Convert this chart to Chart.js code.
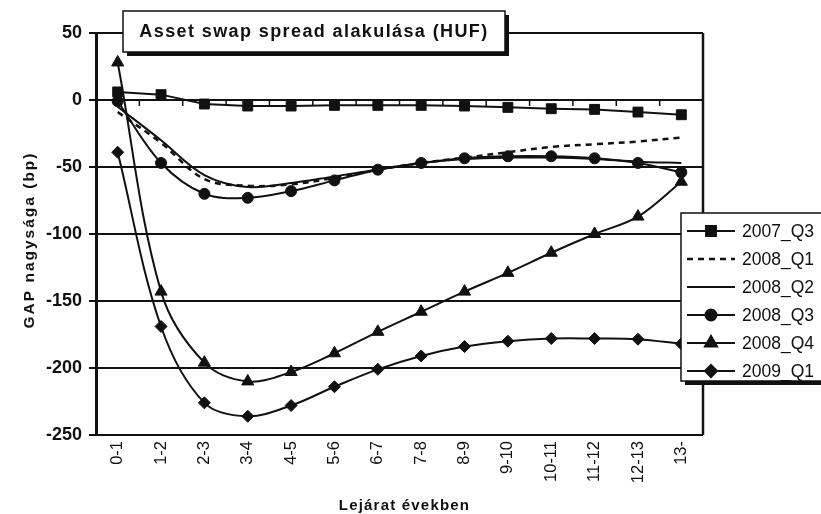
<!DOCTYPE html>
<html>
<head>
<meta charset="utf-8">
<script src="https://cdn.jsdelivr.net/npm/chart.js@4"></script>
<style>
  html, body { margin: 0; padding: 0; background: #fff; }
  canvas { display: block; }
</style>
</head>
<body>
<canvas id="chart" width="821" height="514"></canvas>
<script>
const labels = ["0-1", "1-2", "2-3", "3-4", "4-5", "5-6", "6-7", "7-8", "8-9", "9-10", "10-11", "11-12", "12-13", "13-"];
const q2007_3 = [6, 4, -3, -4.5, -4.5, -4, -4, -4, -4.5, -5.5, -6.5, -7, -9, -11];
const q2008_1 = [-9, -32, -59, -64, -63, -58, -52, -47, -43, -39, -35, -33, -31, -28];
const q2008_2 = [-5, -30, -56, -65, -62, -57, -52, -47, -44, -43, -43, -44, -46, -47];
const q2008_3 = [-1, -47, -70, -73, -68, -60, -52, -47, -43.5, -42, -42, -43.5, -47, -54];
const q2008_4 = [28, -143, -196, -210, -203, -189, -173, -158, -143, -129, -114, -100, -87, -61];
const q2009_1 = [-39, -169, -226, -236, -228, -214, -201, -191, -184, -180, -178, -178, -178.5, -182];

const yTicks = [50, 0, -50, -100, -150, -200, -250];

const FONT = "'Liberation Sans', Arial, sans-serif";
const INK = "#111";

const series = (label, data, style, extra) => Object.assign({
  label,
  data,
  borderColor: INK,
  backgroundColor: INK,
  borderWidth: 2,
  pointStyle: style || false,
  pointRadius: style ? 5 : 0,
  pointBorderWidth: 1,
  tension: 0.35,
}, extra);

const datasets = [
  series("2007_Q3", q2007_3, "rect", { pointRadius: 7, tension: 0 }),
  series("2008_Q1", q2008_1, null, { borderDash: [6, 5], borderWidth: 2.5 }),
  series("2008_Q2", q2008_2, null),
  series("2008_Q3", q2008_3, "circle", { pointRadius: 5.5 }),
  series("2008_Q4", q2008_4, "triangle", { pointRadius: 7 }),
  series("2009_Q1", q2009_1, "rectRot", { pointRadius: 6 }),
];

const decor = {
  id: "decor",
  beforeDatasetsDraw(chart) {
    const { ctx, chartArea: a, scales: { x, y } } = chart;
    ctx.save();
    ctx.strokeStyle = INK;
    // right border
    ctx.lineWidth = 2.5;
    ctx.beginPath();
    ctx.moveTo(a.right, a.top);
    ctx.lineTo(a.right, a.bottom);
    ctx.stroke();
    // category ticks on the zero line
    const y0 = y.getPixelForValue(0);
    ctx.lineWidth = 1.5;
    ctx.beginPath();
    for (let i = 1; i < labels.length; i++) {
      const px = (x.getPixelForTick(i - 1) + x.getPixelForTick(i)) / 2;
      ctx.moveTo(px, y0);
      ctx.lineTo(px, y0 + 6);
    }
    ctx.stroke();
    ctx.restore();
  },
  afterDraw(chart) {
    const { ctx, chartArea: a } = chart;
    ctx.save();
    ctx.fillStyle = INK;
    ctx.textAlign = "center";
    ctx.textBaseline = "middle";

    // axis titles
    ctx.font = "bold 15px " + FONT;
    ctx.letterSpacing = "1.2px";
    ctx.fillText("Lejárat években", (a.left + a.right) / 2 + 5, 506);
    ctx.save();
    ctx.translate(30, (a.top + a.bottom) / 2 + 6);
    ctx.rotate(-Math.PI / 2);
    ctx.font = "bold 15.5px " + FONT;
    ctx.letterSpacing = "2px";
    ctx.fillText("GAP nagysága (bp)", 0, 0);
    ctx.restore();

    // title box
    const tb = { x: 123, y: 11, w: 382, h: 41 };
    ctx.fillStyle = INK;
    ctx.fillRect(tb.x + 4, tb.y + 4, tb.w, tb.h);
    ctx.fillStyle = "#fff";
    ctx.fillRect(tb.x, tb.y, tb.w, tb.h);
    ctx.strokeStyle = INK;
    ctx.lineWidth = 1.5;
    ctx.strokeRect(tb.x, tb.y, tb.w, tb.h);
    ctx.fillStyle = INK;
    ctx.font = "bold 18px " + FONT;
    ctx.letterSpacing = "1.4px";
    ctx.fillText("Asset swap spread alakulása (HUF)", tb.x + tb.w / 2, tb.y + tb.h / 2 + 1);

    // legend
    const lg = { x: 681, y: 213, w: 150, h: 168 };
    ctx.fillStyle = INK;
    ctx.fillRect(lg.x + 4, lg.y + 4, lg.w, lg.h);
    ctx.fillStyle = "#fff";
    ctx.fillRect(lg.x, lg.y, lg.w, lg.h);
    ctx.lineWidth = 1.5;
    ctx.strokeRect(lg.x, lg.y, lg.w, lg.h);
    ctx.letterSpacing = "0px";
    ctx.font = "17.5px " + FONT;
    ctx.textAlign = "left";
    chart.data.datasets.forEach((ds, i) => {
      const ly = lg.y + 18 + i * 28;
      ctx.strokeStyle = INK;
      ctx.lineWidth = ds.borderWidth;
      ctx.setLineDash(ds.borderDash || []);
      ctx.beginPath();
      ctx.moveTo(687, ly);
      ctx.lineTo(735, ly);
      ctx.stroke();
      ctx.setLineDash([]);
      if (ds.pointStyle) {
        ctx.fillStyle = INK;
        Chart.helpers.drawPoint(ctx, {
          pointStyle: ds.pointStyle,
          radius: ds.pointRadius,
          rotation: 0,
          borderWidth: 1,
        }, 711, ly);
        ctx.fill();
      }
      ctx.fillStyle = INK;
      ctx.fillText(ds.label, 742, ly + 1);
    });
    ctx.restore();
  },
};

new Chart(document.getElementById("chart"), {
  type: "line",
  data: { labels, datasets },
  options: {
    responsive: false,
    animation: false,
    devicePixelRatio: 1,
    layout: { padding: { top: 33, right: 118, left: 0, bottom: 0 } },
    plugins: { legend: { display: false }, tooltip: { enabled: false } },
    scales: {
      x: {
        offset: true,
        grid: { display: false, drawTicks: false },
        border: { display: false },
        ticks: {
          color: INK,
          font: { family: FONT, size: 16.5 },
          minRotation: 90,
          maxRotation: 90,
          padding: 6,
          autoSkip: false,
        },
        afterFit: (s) => { s.height = 79; },
      },
      y: {
        min: -250,
        max: 50,
        afterBuildTicks: (s) => { s.ticks = yTicks.map((v) => ({ value: v })); },
        grid: { color: INK, lineWidth: 2, tickLength: 7, drawTicks: true },
        border: { display: true, color: INK, width: 3 },
        ticks: {
          color: INK,
          font: { family: FONT, size: 18, weight: "bold" },
          padding: 7,
        },
        afterFit: (s) => { s.width = 96; },
      },
    },
  },
  plugins: [decor],
});
</script>
</body>
</html>
